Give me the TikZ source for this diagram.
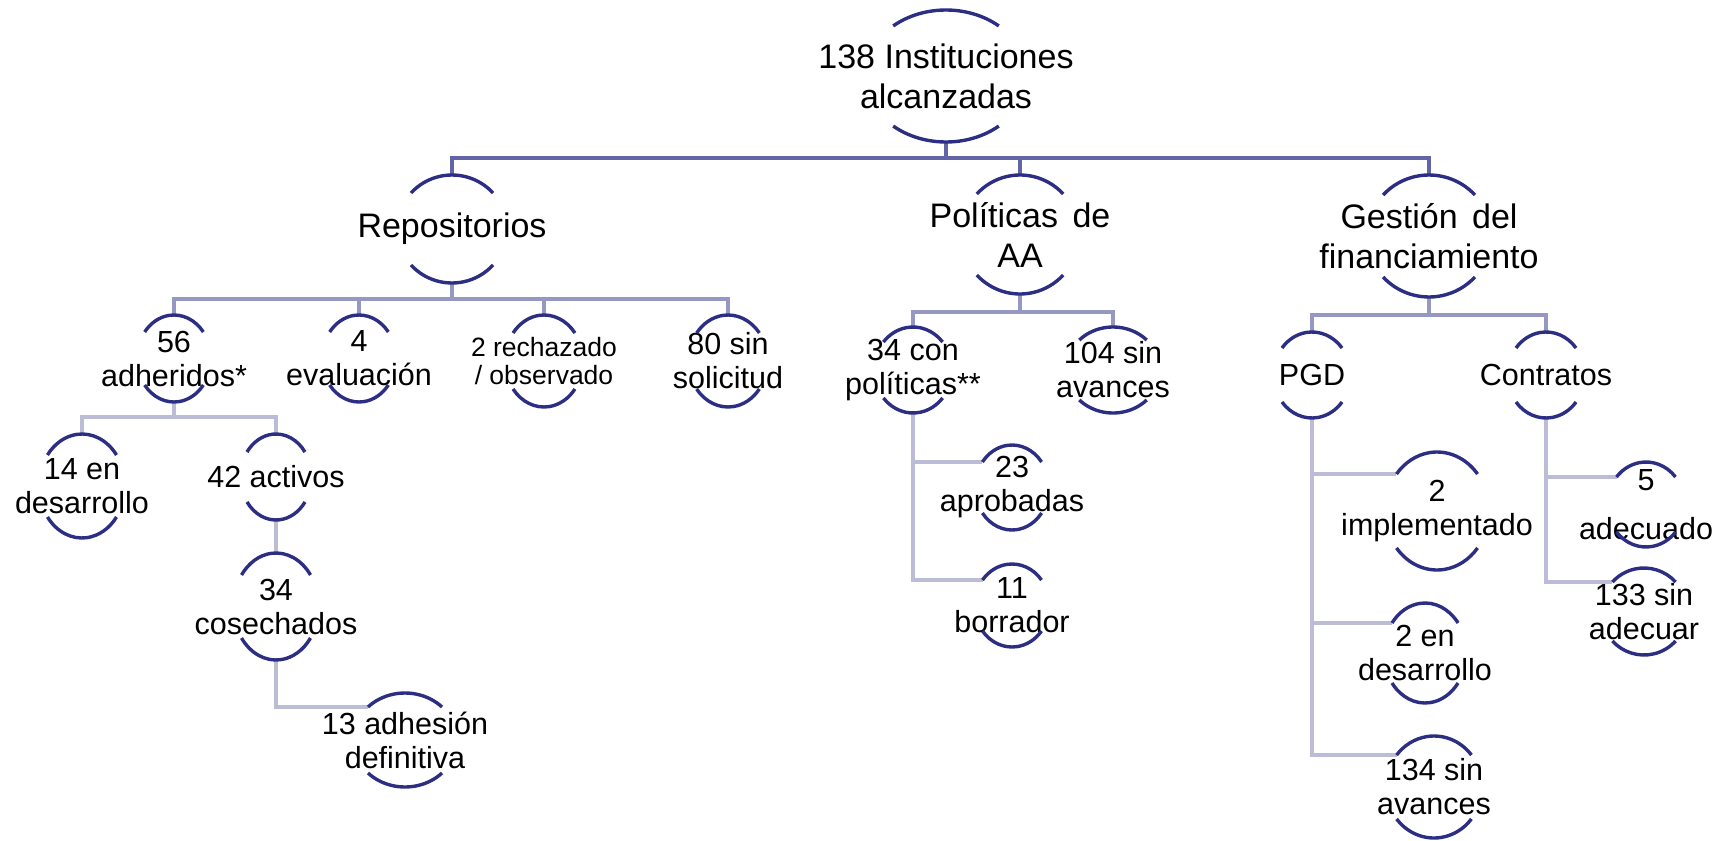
\documentclass[tikz,border=0pt]{standalone}
\usepackage{fontspec}
\setmainfont{Liberation Sans}
\usepackage{xcolor}
\usepackage{tikz}
\usetikzlibrary{backgrounds}
\definecolor{RingNavy}{RGB}{44,46,132}
\definecolor{LinkDark}{RGB}{98,100,166}
\definecolor{LinkMid}{RGB}{150,152,196}
\definecolor{LinkLight}{RGB}{188,188,214}
\tikzset{
    % Text of the two top levels
    bigitem/.style={align=center, inner sep=0pt, font=\fontsize{34}{40}\selectfont},
    % Text of the lower levels
    smallitem/.style={align=center, inner sep=0pt, font=\fontsize{30.5}{34}\selectfont},
    % Height of the open ring (half height given)
    ring/.style={minimum height=2*#1pt},
    % Arcs of the ring
    ringarc/.style={draw=RingNavy, line width=3.4pt},
    % Connection lines, dark at the top, lighter further down
    linkone/.style={draw=LinkDark, line width=3.6pt},
    linktwo/.style={draw=LinkMid, line width=3.6pt},
    linkthree/.style={draw=LinkLight, line width=3.6pt},
}
% Open ring round node #1: x radius #2, y radius #3, arc end angle #4
\newcommand{\openring}[4]{%
    \draw[ringarc] (#1.center) ++({#4}:#2pt and #3pt)
        arc[start angle=#4, end angle=180-#4, x radius=#2pt, y radius=#3pt];
    \draw[ringarc] (#1.center) ++({180+#4}:#2pt and #3pt)
        arc[start angle=180+#4, end angle=360-#4, x radius=#2pt, y radius=#3pt];
    \path (#1.center) ++({180-#4}:#2pt and #3pt) coordinate (#1-tl);
}

\begin{document}
\begin{tikzpicture}[x=1pt, y=-1pt]
    \useasboundingbox (0,0) rectangle (1728,840);
    % Top levels
    \node[bigitem, ring=66] (root) at (946,76) {138 Instituciones\\alcanzadas};
    \node[bigitem, ring=54] (repo) at (452,229) {Repositorios};
    \node[bigitem, ring=59.5] (pol) at (1020,234.5) {Políticas\hspace{5pt} de\\AA};
    \node[bigitem, ring=61] (gest) at (1429,236) {Gestión\hspace{5pt} del\\financiamiento};
    % Repositorios
    \node[smallitem, ring=43.5] (adh56) at (174,358.5) {56\\adheridos*};
    \node[smallitem, ring=43.5] (eva4) at (359,358.5) {4\\evaluación};
    \node[smallitem, ring=46, font=\fontsize{26.5}{27.5}\selectfont] (rech2) at (544,361) {2 rechazado\\/ observado};
    \node[smallitem, ring=46] (sol80) at (728,361) {80 sin\\solicitud};
    \node[smallitem, ring=52] (des14) at (82,486) {14 en\\desarrollo};
    \node[smallitem, ring=43] (act42) at (276,477) {42 activos};
    \node[smallitem, ring=53.5] (cos34) at (276,606.5) {34\\cosechados};
    \node[smallitem, ring=47] (def13) at (405,740) {13 adhesión\\definitiva};
    % Politicas de AA
    \node[smallitem, ring=43] (con34) at (913,370) {34 con\\políticas**};
    \node[smallitem, ring=43] (sin104) at (1113,370) {104 sin\\avances};
    \node[smallitem, ring=42.5] (apr23) at (1012,487.5) {23\\aprobadas};
    \node[smallitem, ring=41.5] (bor11) at (1012,605.5) {11\\borrador};
    % Gestion del financiamiento
    \node[smallitem, ring=43] (pgd) at (1312,375) {PGD};
    \node[smallitem, ring=43] (contr) at (1546,375) {Contratos};
    \node[smallitem, ring=59] (imp2) at (1437,511) {2\\implementado};
    \node[smallitem, ring=50] (dev2) at (1425,653) {2 en\\desarrollo};
    \node[smallitem, ring=51] (sin134) at (1434,787) {134 sin\\avances};
    \node[smallitem, ring=42.5] (ade5) at (1646,504.5) {5\\[15pt]adecuado};
    \node[smallitem, ring=43.5] (sin133) at (1644,611.5) {133 sin\\adecuar};

    % Rings
    \foreach \n/\rx/\ry/\ang in {root/81/66/49.3, repo/55/54/41.8, pol/59/59.5/42.9,
        gest/62/61/42.2, adh56/37/43.5/37.5, eva4/37/43.5/37.5, rech2/39/46/37.5,
        sol80/39.5/46/37.5, des14/43/52/36.6, act42/35.6/43/35.5, cos34/42.7/53.5/36.1,
        def13/52/47/44.6, con34/39/43/40.6, sin104/47/43/44.2, apr23/37/42.5/36.9,
        bor11/37.4/41.5/37.9, pgd/38.6/43/38.9, contr/38.6/43/38.9, imp2/52/59/38.8,
        dev2/41.3/50/36.9, sin134/48/51/38.8, ade5/38.7/42.5/40.3, sin133/43/43.5/42.7}
        {\openring{\n}{\rx}{\ry}{\ang}}

    % Connections
    \begin{scope}[on background layer]
        \foreach \k in {repo,pol,gest}
            \draw[linkone] (root.south) -- ++(0,16) -| (\k.north);
        \foreach \k in {adh56,eva4,rech2,sol80}
            \draw[linktwo] (repo.south) -- ++(0,16) -| (\k.north);
        \foreach \k in {con34,sin104}
            \draw[linktwo] (pol.south) -- ++(0,18) -| (\k.north);
        \foreach \k in {pgd,contr}
            \draw[linktwo] (gest.south) -- ++(0,18) -| (\k.north);
        \foreach \k in {des14,act42}
            \draw[linkthree] (adh56.south) -- ++(0,15) -| (\k.north);
        \draw[linkthree] (act42.south) -- (cos34.north);
        \draw[linkthree] (cos34.south) |- (def13-tl);
        \foreach \k in {apr23,bor11}
            \draw[linkthree] (con34.south) |- (\k-tl);
        \foreach \k in {imp2,dev2,sin134}
            \draw[linkthree] (pgd.south) |- (\k-tl);
        \foreach \k in {ade5,sin133}
            \draw[linkthree] (contr.south) |- (\k-tl);
    \end{scope}
\end{tikzpicture}
\end{document}
